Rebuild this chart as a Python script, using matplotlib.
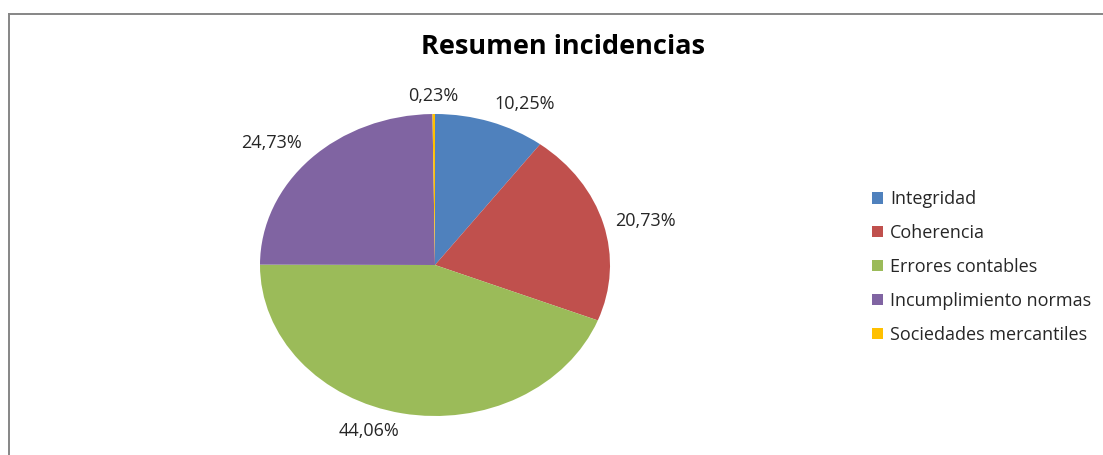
import numpy as np
import matplotlib
matplotlib.use("Agg")
import matplotlib.pyplot as plt
from matplotlib.patches import Patch
from matplotlib.lines import Line2D

# ─── Data ────────────────────────────────────────────────────────────────────
categories = ["Integridad", "Coherencia", "Errores contables",
              "Incumplimiento normas", "Sociedades mercantiles"]
values = [10.25, 20.73, 44.06, 24.73, 0.23]
colors = ["#4F81BD", "#C0504D", "#9BBB59", "#8064A2", "#FFC000"]

plt.rcParams['font.family'] = ['Open Sans', 'DejaVu Sans']

fig = plt.figure(figsize=(11.03, 4.55), dpi=100)
W, H = 1103, 455

# pie stretched like Excel: horizontal radius ~175px, vertical ~151px
cx, cy, rx, ry = 435, 265, 175, 151
ax = fig.add_axes([(cx - 1.25 * rx) / W, (H - cy - 1.25 * ry) / H,
                   2.5 * rx / W, 2.5 * ry / H])
wedges, _ = ax.pie(values, colors=colors, startangle=90, counterclock=False,
                   wedgeprops=dict(linewidth=0))
ax.set_aspect('auto')
ax.set_xlim(-1.25, 1.25)
ax.set_ylim(-1.25, 1.25)

# data labels outside the pie, aligned by direction
for w, v in zip(wedges, values):
    ang = np.deg2rad((w.theta1 + w.theta2) / 2)
    c, s = np.cos(ang), np.sin(ang)
    ha = 'left' if c > 0.1 else ('right' if c < -0.1 else 'center')
    va = 'bottom' if s > 0.5 else ('top' if s < -0.5 else 'center')
    ax.text(1.07 * c, 1.06 * s, f"{v:.2f}%".replace('.', ','),
            ha=ha, va=va, fontsize=13, color='#262626')

fig.text(563 / W, 1 - 47 / H, "Resumen incidencias", ha='center', va='center',
         fontsize=19.5, fontweight='bold', color='black')

handles = [Patch(facecolor=c, edgecolor='none') for c in colors]
fig.legend(handles, categories, loc='center left',
           bbox_to_anchor=(856 / W, 1 - 267 / H), frameon=False,
           fontsize=13, handlelength=0.6, handleheight=0.6,
           handletextpad=0.4, labelspacing=0.88, labelcolor='#262626')

# chart frame (cropped: only top and left edges visible)
fig.add_artist(Line2D([9 / W, 1], [1 - 14 / H, 1 - 14 / H],
                      transform=fig.transFigure, color='#868686', lw=1.4))
fig.add_artist(Line2D([9 / W, 9 / W], [0, 1 - 14 / H],
                      transform=fig.transFigure, color='#868686', lw=1.4))

fig.savefig("out.png", dpi=100)
